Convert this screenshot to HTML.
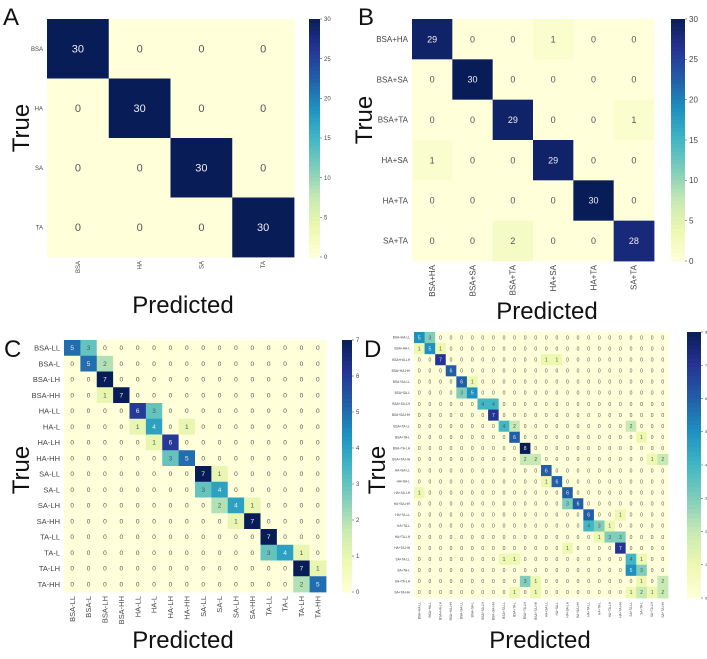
<!DOCTYPE html>
<html><head><meta charset="utf-8">
<style>
html,body{margin:0;padding:0;background:#fff;}
svg{display:block;font-family:"Liberation Sans",sans-serif;}
</style></head>
<body>
<svg id="fig" width="707" height="659" viewBox="0 0 707 659"></svg>
<script>
// ---- Data ----
const labelsA = ["BSA","HA","SA","TA"];
const matrixA = [[30,0,0,0],[0,30,0,0],[0,0,30,0],[0,0,0,30]];
const cbTicksA = [0,5,10,15,20,25,30];

const labelsB = ["BSA+HA","BSA+SA","BSA+TA","HA+SA","HA+TA","SA+TA"];
const matrixB = [
 [29,0,0,1,0,0],[0,30,0,0,0,0],[0,0,29,0,0,1],
 [1,0,0,29,0,0],[0,0,0,0,30,0],[0,0,2,0,0,28]];
const cbTicksB = [0,5,10,15,20,25,30];

const labelsC = ["BSA-LL","BSA-L","BSA-LH","BSA-HH","HA-LL","HA-L","HA-LH","HA-HH","SA-LL","SA-L","SA-LH","SA-HH","TA-LL","TA-L","TA-LH","TA-HH"];
const matrixC = [
 [5,3,0,0,0,0,0,0,0,0,0,0,0,0,0,0],
 [0,5,2,0,0,0,0,0,0,0,0,0,0,0,0,0],
 [0,0,7,0,0,0,0,0,0,0,0,0,0,0,0,0],
 [0,0,1,7,0,0,0,0,0,0,0,0,0,0,0,0],
 [0,0,0,0,6,3,0,0,0,0,0,0,0,0,0,0],
 [0,0,0,0,1,4,0,1,0,0,0,0,0,0,0,0],
 [0,0,0,0,0,1,6,0,0,0,0,0,0,0,0,0],
 [0,0,0,0,0,0,3,5,0,0,0,0,0,0,0,0],
 [0,0,0,0,0,0,0,0,7,1,0,0,0,0,0,0],
 [0,0,0,0,0,0,0,0,3,4,0,0,0,0,0,0],
 [0,0,0,0,0,0,0,0,0,2,4,1,0,0,0,0],
 [0,0,0,0,0,0,0,0,0,0,1,7,0,0,0,0],
 [0,0,0,0,0,0,0,0,0,0,0,0,7,0,0,0],
 [0,0,0,0,0,0,0,0,0,0,0,0,3,4,1,0],
 [0,0,0,0,0,0,0,0,0,0,0,0,0,0,7,1],
 [0,0,0,0,0,0,0,0,0,0,0,0,0,0,2,5]];
const cbTicksC = [0,1,2,3,4,5,6,7];

const labelsD = ["BSA+HA-LL","BSA+HA-L","BSA+HA-LH","BSA+HA-HH","BSA+SA-LL","BSA+SA-L","BSA+SA-LH","BSA+SA-HH","BSA+TA-LL","BSA+TA-L","BSA+TA-LH","BSA+TA-HH","HA+SA-LL","HA+SA-L","HA+SA-LH","HA+SA-HH","HA+TA-LL","HA+TA-L","HA+TA-LH","HA+TA-HH","SA+TA-LL","SA+TA-L","SA+TA-LH","SA+TA-HH"];
const nonzeroD = [
 [0,0,5],[0,1,3],
 [1,0,1],[1,1,5],[1,2,1],
 [2,2,7],[2,12,1],[2,13,1],
 [3,3,6],
 [4,4,6],[4,5,1],
 [5,4,3],[5,5,5],
 [6,6,4],[6,7,4],
 [7,7,7],
 [8,8,4],[8,9,2],[8,20,2],
 [9,9,6],[9,21,1],
 [10,10,8],
 [11,10,2],[11,11,2],[11,22,1],[11,23,2],
 [12,12,6],
 [13,12,1],[13,13,6],
 [14,0,1],[14,14,6],
 [15,14,3],[15,15,6],
 [16,16,6],[16,19,1],
 [17,16,4],[17,17,3],[17,18,1],
 [18,17,1],[18,18,3],[18,19,3],
 [19,14,1],[19,19,7],
 [20,8,1],[20,9,1],[20,20,4],[20,21,1],
 [21,20,5],[21,21,3],
 [22,10,3],[22,11,1],[22,21,1],[22,23,2],
 [23,9,1],[23,11,1],[23,20,1],[23,21,2],[23,22,1],[23,23,2]];
const cbTicksD = [0,1,2,3,4,5,6,7,8];

// ---- Drawing ----
const NS="http://www.w3.org/2000/svg";
const svg=document.getElementById('fig');
const stops=["#ffffd9","#edf8b1","#c7e9b4","#7fcdbb","#41b6c4","#1d91c0","#225ea8","#253494","#081d58"];
function hex(h){return [1,3,5].map(i=>parseInt(h.substr(i,2),16));}
function cmap(t){t=Math.max(0,Math.min(1,t));const p=t*8,i=Math.min(7,Math.floor(p)),f=p-i;
 const a=hex(stops[i]),b=hex(stops[i+1]);return "rgb("+a.map((v,k)=>Math.round(v+(b[k]-v)*f)).join(",")+")";}
function el(tag,attrs,parent){const e=document.createElementNS(NS,tag);for(const k in attrs)e.setAttribute(k,attrs[k]);(parent||svg).appendChild(e);return e;}

function heatmap(o){
 const g=el('g',{});
 
 
 const n=o.labels.length, cw=(o.x1-o.x0)/n, ch=(o.y1-o.y0)/n;
 const vmax=o.cbTicks[o.cbTicks.length-1];
 const xs=i=>o.x0+i*cw, ys=j=>o.y0+j*ch;
 for(let r=0;r<n;r++)for(let c=0;c<n;c++){
  const v=o.matrix[r][c];
  const rc=el('rect',{x:xs(c),y:ys(r),width:cw+0.4,height:ch+0.4,fill:cmap(v/vmax)},g);
  
  
  const t=el('text',{x:xs(c)+cw/2,y:ys(r)+ch/2+o.vfs*0.35,'text-anchor':'middle','font-size':o.vfs,fill:v>vmax*0.5?'#eeeeee':'#555'},g);
  t.textContent=v;
  
  
 }
 for(let i=0;i<n;i++){
  const ty=el('text',{x:o.x0-4,y:ys(i)+ch/2+o.lfs*0.35,'text-anchor':'end','font-size':o.lfs,fill:'#444'},g);
  ty.textContent=o.labels[i];
  
  
  const cx=xs(i)+cw/2, cy=o.y1+4;
  const tx=el('text',{x:cx+o.lfs*0.35,y:cy,'text-anchor':'end','font-size':o.lfs,fill:'#444',transform:'rotate(-90 '+(cx+o.lfs*0.35)+' '+cy+')'},g);
  tx.textContent=o.labels[i];
  
  
 }
 const cb=el('g',{},g);
 
 
 const steps=60, h=(o.y1-o.y0)/steps;
 for(let s=0;s<steps;s++){el('rect',{x:o.cbx,y:o.y0+s*h,width:o.cbw,height:h+0.5,fill:cmap(1-(s+0.5)/steps)},cb);}
 o.cbTicks.forEach(tv=>{
  const yy=o.y1-(tv/vmax)*(o.y1-o.y0);
  el('line',{x1:o.cbx+o.cbw,x2:o.cbx+o.cbw+2,y1:yy,y2:yy,stroke:'#555','stroke-width':0.6},cb);
  const t=el('text',{x:o.cbx+o.cbw+4,y:yy+o.cfs*0.35,'font-size':o.cfs,fill:'#444'},cb);
  t.textContent=tv;
  
  
 });
 const pl=el('text',{x:o.px,y:o.py,'font-size':o.tfs,fill:'#111'},g);
 pl.textContent=o.panel;
 
 
 const yt=el('text',{x:o.ytx,y:o.yty,'text-anchor':'middle','font-size':o.afs,fill:'#111',transform:'rotate(-90 '+o.ytx+' '+o.yty+')'},g);
 yt.textContent="True";
 
 
 const xt=el('text',{x:o.xtx,y:o.xty,'text-anchor':'middle','font-size':o.afs,fill:'#111'},g);
 xt.textContent="Predicted";
 
 
}

const matrixD=labelsD.map(()=>labelsD.map(()=>0));
nonzeroD.forEach(([r,c,v])=>{matrixD[r][c]=v;});

heatmap({name:'heatmap-a',panel:'A',labels:labelsA,matrix:matrixA,cbTicks:cbTicksA,x0:47,x1:294,y0:19,y1:257,cbx:309,cbw:11,vfs:11,lfs:6,cfs:6,tfs:24,afs:24,px:3,py:25,ytx:29,yty:128,xtx:183,xty:313});
heatmap({name:'heatmap-b',panel:'B',labels:labelsB,matrix:matrixB,cbTicks:cbTicksB,x0:412,x1:654,y0:19,y1:261,cbx:671,cbw:14,vfs:9,lfs:8,cfs:8,tfs:24,afs:24,px:358,py:25,ytx:372,yty:120,xtx:547,xty:319});
heatmap({name:'heatmap-c',panel:'C',labels:labelsC,matrix:matrixC,cbTicks:cbTicksC,x0:64,x1:326,y0:340,y1:592,cbx:342,cbw:10,vfs:6.5,lfs:7.5,cfs:6,tfs:24,afs:24,px:4,py:357,ytx:29,yty:470,xtx:183,xty:648});
heatmap({name:'heatmap-d',panel:'D',labels:labelsD,matrix:matrixD,cbTicks:cbTicksD,x0:414,x1:668,y0:332,y1:598,cbx:687,cbw:14,vfs:5,lfs:3.2,cfs:4,tfs:24,afs:24,px:364,py:357,ytx:385,yty:470,xtx:540,xty:648});
</script>
</body></html>
